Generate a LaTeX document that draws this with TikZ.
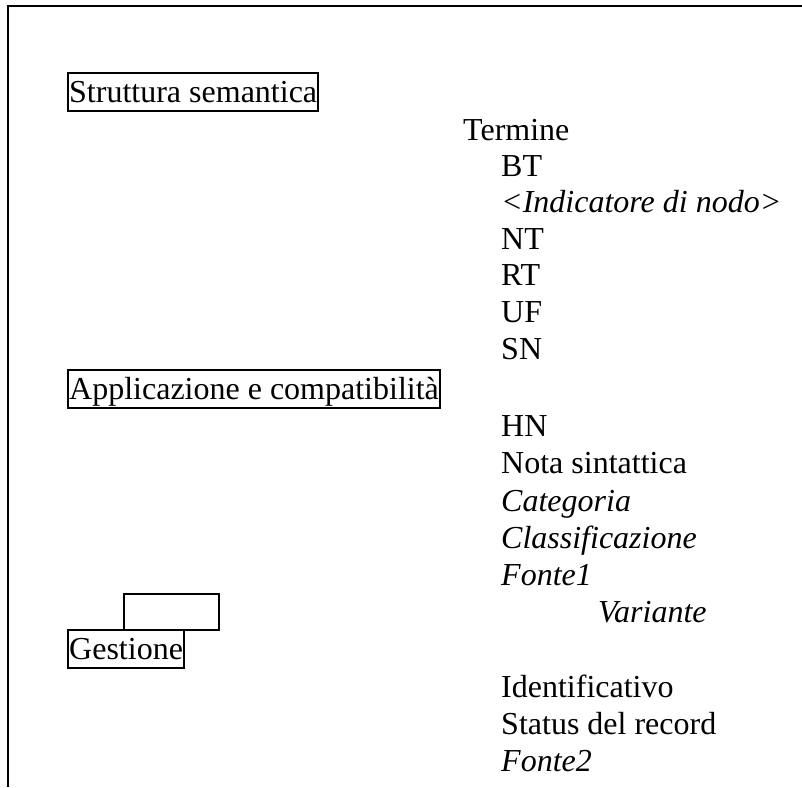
\documentclass[tikz,border=0pt]{standalone}
\usepackage{fontspec}
\setmainfont{Liberation Serif}
\begin{document}
\begin{tikzpicture}[x=1pt,y=-1pt,
  every node/.style={inner sep=0pt, font=\fontsize{32}{37}\selectfont},
  txt/.style={anchor=base west},
  itxt/.style={anchor=base west, font=\fontsize{32}{37}\selectfont\itshape},
  boxed/.style={draw, line width=2.4pt, anchor=base west, text height=29pt, text depth=9pt, inner xsep=1pt},
  emptybox/.style={draw, line width=2.4pt, anchor=north west, minimum width=95pt, minimum height=36pt}]
\useasboundingbox (0,0) rectangle (802,787);
\coordinate (tl) at (8,6);
\coordinate (tr) at (802,6);
\coordinate (bl) at (8,787);
\draw[line width=2.4pt] (tr) -- (tl) -- (bl);

\node[boxed] (strutt) at (67,102) {Struttura semantica};
\node[boxed] (appl) at (67,399) {Applicazione e compatibilità};
\node[emptybox] (empty) at (123,593) {};
\node[boxed] (gest) at (67,659) {Gestione};

\node[txt] (termine) at (463,140) {Termine};
\node[txt] (bt) at (501,176) {BT};
\node[itxt] (ind) at (501,212) {<Indicatore di nodo>};
\node[txt] (nt) at (501,249) {NT};
\node[txt] (rt) at (501,285) {RT};
\node[txt] (uf) at (501,322) {UF};
\node[txt] (sn) at (501,359) {SN};
\node[txt] (hn) at (501,436) {HN};
\node[txt] (nota) at (501,473) {Nota sintattica};
\node[itxt] (cat) at (501,511) {Categoria};
\node[itxt] (class) at (501,548) {Classificazione};
\node[itxt] (fonte1) at (501,585) {Fonte1};
\node[itxt] (var) at (598,622) {Variante};
\node[txt] (ident) at (501,697) {Identificativo};
\node[txt] (status) at (501,734) {Status del record};
\node[itxt] (fonte2) at (501,771) {Fonte2};
\end{tikzpicture}
\end{document}
